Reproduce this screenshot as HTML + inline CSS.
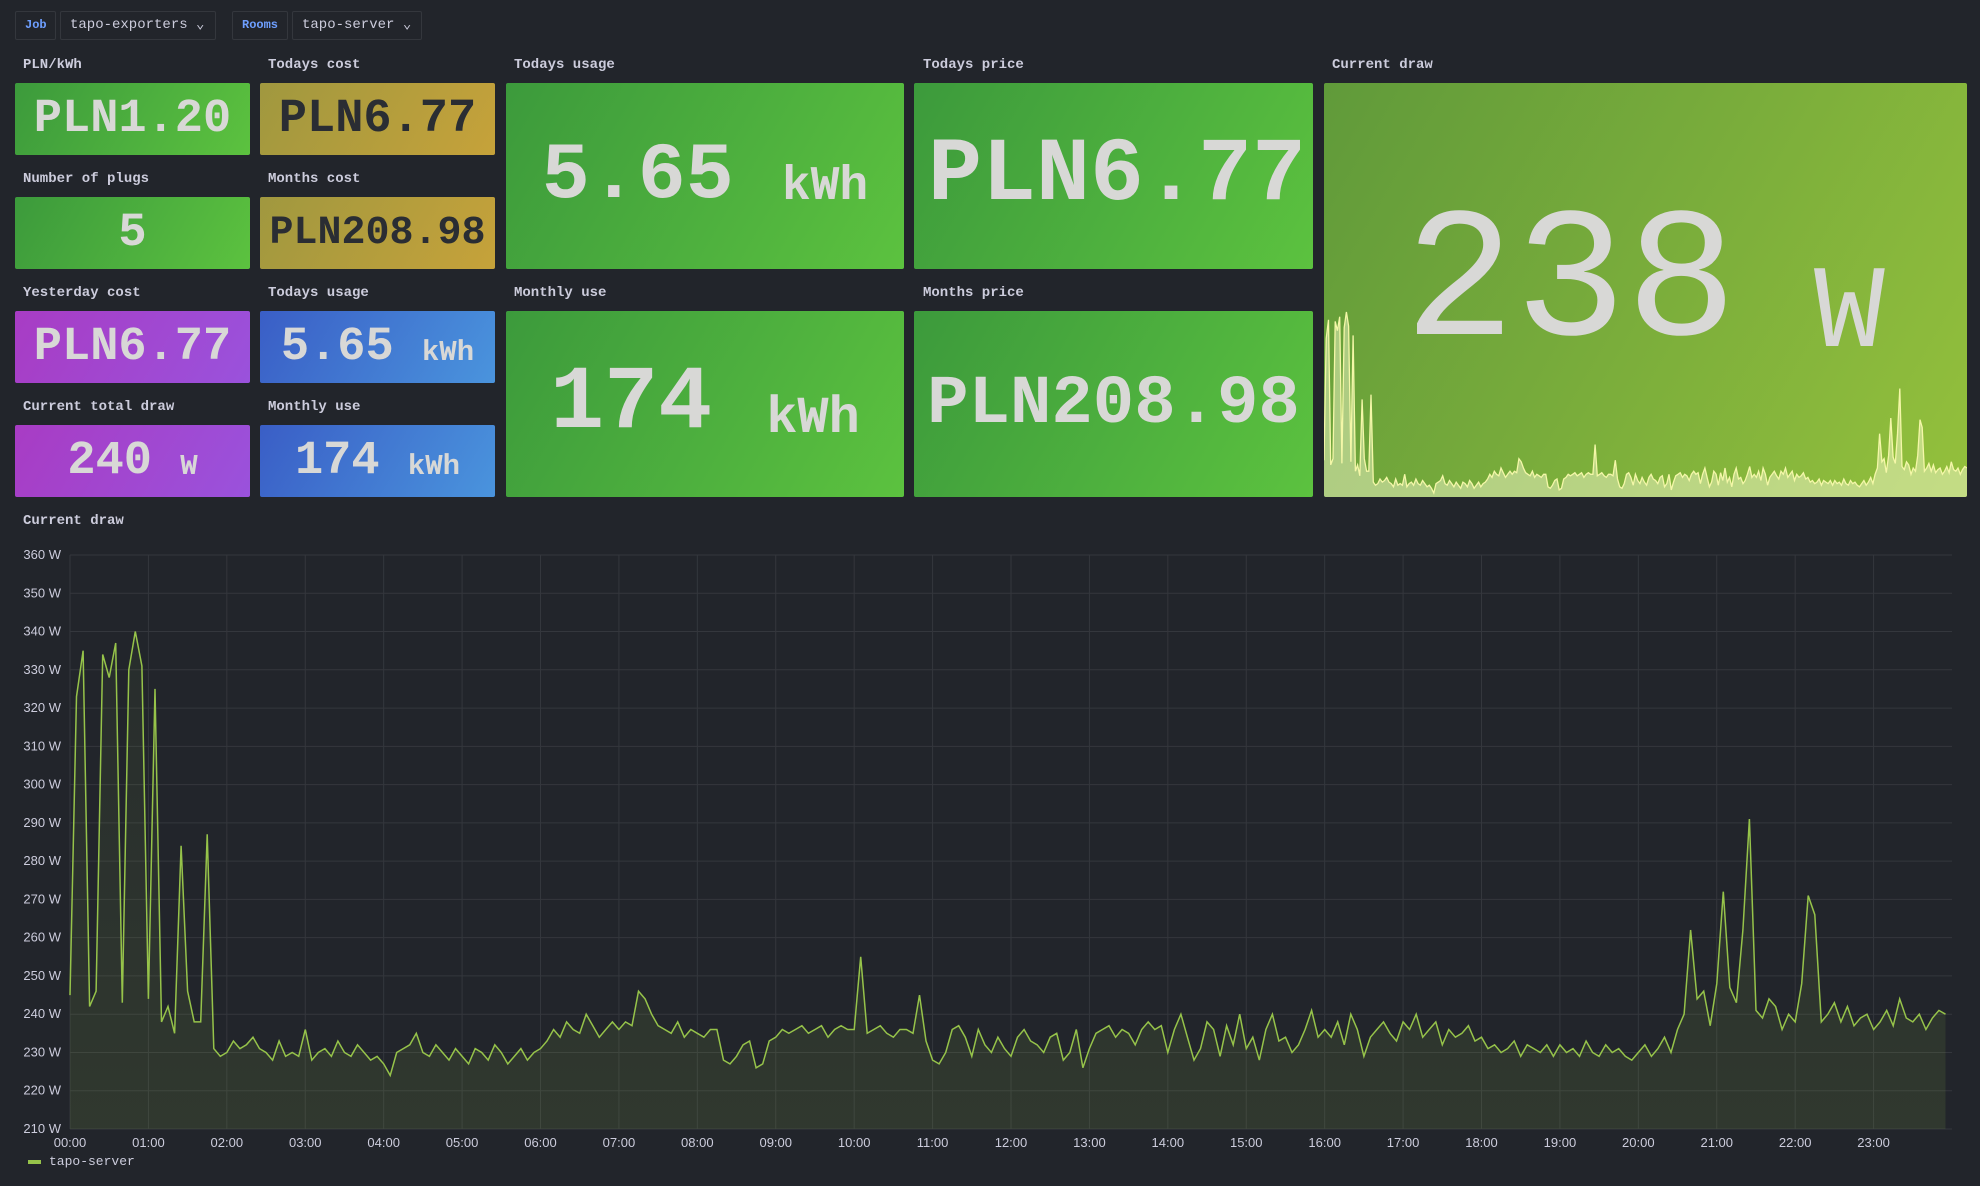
<!DOCTYPE html>
<html><head><meta charset="utf-8">
<style>
body{margin:0;width:1980px;height:1186px;background:#22252b;overflow:hidden;font-family:"Liberation Mono",monospace;color:#ccccdc;position:relative}
.abs{position:absolute}
.tag{position:absolute;top:11px;height:29px;border:1px solid #34373d;border-radius:2px;box-sizing:border-box;font-size:14px;line-height:27px;padding-left:9px}
.lbl{color:#6e9fff;font-size:12px;font-weight:bold}
.title{position:absolute;font-size:14px;font-weight:bold;color:#ccccdc}
.box{position:absolute;border-radius:2px;display:flex;align-items:center;justify-content:center;color:#d8d8d6;font-weight:bold;white-space:nowrap}
.g{background:linear-gradient(120deg,#3c9a3c,#5cc23f)}
.y{background:linear-gradient(120deg,#a0983f,#c6a23a);color:#2a2d33}
.p{background:linear-gradient(120deg,#a83cc4,#9a52dc)}
.b{background:linear-gradient(120deg,#3a5ec6,#4a94dd)}
</style></head><body>
<div class="tag lbl" style="left:15px;width:41px">Job</div>
<div class="tag" style="left:60px;width:156px">tapo-exporters ⌄</div>
<div class="tag lbl" style="left:232px;width:56px">Rooms</div>
<div class="tag" style="left:292px;width:130px">tapo-server ⌄</div>

<div class="title" style="left:23px;top:57px">PLN/kWh</div>
<div class="box g" style="left:15px;top:83px;width:235px;height:72px;font-size:47px">PLN1.20</div>
<div class="title" style="left:268px;top:57px">Todays cost</div>
<div class="box y" style="left:260px;top:83px;width:235px;height:72px;font-size:47px">PLN6.77</div>
<div class="title" style="left:23px;top:171px">Number of plugs</div>
<div class="box g" style="left:15px;top:197px;width:235px;height:72px;font-size:47px">5</div>
<div class="title" style="left:268px;top:171px">Months cost</div>
<div class="box y" style="left:260px;top:197px;width:235px;height:72px;font-size:40px">PLN208.98</div>
<div class="title" style="left:23px;top:285px">Yesterday cost</div>
<div class="box p" style="left:15px;top:311px;width:235px;height:72px;font-size:47px">PLN6.77</div>
<div class="title" style="left:268px;top:285px">Todays usage</div>
<div class="box b" style="left:260px;top:311px;width:235px;height:72px;font-size:47px">5.65&nbsp;<span style="font-size:29px;margin-top:10px">kWh</span></div>
<div class="title" style="left:23px;top:399px">Current total draw</div>
<div class="box p" style="left:15px;top:425px;width:235px;height:72px;font-size:47px">240&nbsp;<span style="font-size:29px;margin-top:10px">W</span></div>
<div class="title" style="left:268px;top:399px">Monthly use</div>
<div class="box b" style="left:260px;top:425px;width:235px;height:72px;font-size:47px">174&nbsp;<span style="font-size:29px;margin-top:10px">kWh</span></div>

<div class="title" style="left:514px;top:57px">Todays usage</div>
<div class="box g" style="left:506px;top:83px;width:398px;height:186px;font-size:80px">5.65&nbsp;<span style="font-size:48px;margin-top:22px">kWh</span></div>
<div class="title" style="left:923px;top:57px">Todays price</div>
<div class="box g" style="left:914px;top:83px;width:399px;height:186px;font-size:90px;justify-content:flex-start;padding-left:14px;box-sizing:border-box">PLN6.77</div>
<div class="title" style="left:514px;top:285px">Monthly use</div>
<div class="box g" style="left:506px;top:311px;width:398px;height:186px;font-size:90px">174&nbsp;<span style="font-size:52px;margin-top:28px">kWh</span></div>
<div class="title" style="left:923px;top:285px">Months price</div>
<div class="box g" style="left:914px;top:311px;width:399px;height:186px;font-size:69px">PLN208.98</div>

<div class="title" style="left:1332px;top:57px">Current draw</div>
<div class="abs" style="left:1324px;top:83px;width:643px;height:414px;background:linear-gradient(120deg,#609a3a,#94c03c);border-radius:2px;overflow:hidden">
<svg id="spark" width="643" height="414" style="position:absolute;left:0;top:0"></svg>
<div class="abs" style="left:80px;top:110px;font-size:185px;line-height:185px;color:#d8d8d6">238</div>
<div class="abs" style="left:490px;top:174px;font-size:118px;line-height:118px;color:#d8d8d6">W</div>
</div>

<div class="title" style="left:23px;top:513px">Current draw</div>
<svg id="chart" class="abs" style="left:0;top:530px" width="1980" height="656"></svg>

<script>
const hours=["00:00","01:00","02:00","03:00","04:00","05:00","06:00","07:00","08:00","09:00","10:00","11:00","12:00","13:00","14:00","15:00","16:00","17:00","18:00","19:00","20:00","21:00","22:00","23:00"];
const yTicks=[210,220,230,240,250,260,270,280,290,300,310,320,330,340,350,360];
const draw=[
245,323,335,242,246,334,328,337,243,330,340,331,
244,325,238,242,235,284,246,238,238,287,231,229,
230,233,231,232,234,231,230,228,233,229,230,229,
236,228,230,231,229,233,230,229,232,230,228,229,
227,224,230,231,232,235,230,229,232,230,228,231,
229,227,231,230,228,232,230,227,229,231,228,230,
231,233,236,234,238,236,235,240,237,234,236,238,
236,238,237,246,244,240,237,236,235,238,234,236,
235,234,236,236,228,227,229,232,233,226,227,233,
234,236,235,236,237,235,236,237,234,236,237,236,
236,255,235,236,237,235,234,236,236,235,245,233,
228,227,230,236,237,234,229,236,232,230,234,231,
229,234,236,233,232,230,234,235,228,230,236,226,
231,235,236,237,234,236,235,232,236,238,236,237,
230,236,240,234,228,231,238,236,229,237,232,240,
231,234,228,236,240,233,234,230,232,236,241,234,
236,234,238,232,240,236,229,234,236,238,235,233,
238,236,240,234,236,238,232,236,234,235,237,233,
234,231,232,230,231,233,229,232,231,230,232,229,
232,230,231,229,233,230,229,232,230,231,229,228,
230,232,229,231,234,230,236,240,262,244,246,237,
248,272,247,243,262,291,241,239,244,242,236,240,
238,248,271,266,238,240,243,238,242,237,239,240,
236,238,241,237,244,239,238,240,236,239,241,240];
const NS="http://www.w3.org/2000/svg";
function mk(p,t,a){const e=document.createElementNS(NS,t);for(const k in a)e.setAttribute(k,a[k]);p.appendChild(e);return e;}
// main chart (svg top = 530)
const svg=document.getElementById('chart');
const X0=70,X1=1952,Y0=599,Y1=25,VMIN=210,VMAX=360;
const xs=i=>X0+(X1-X0)*i/draw.length;
const xh=h=>X0+(X1-X0)*h/24;
const ys=v=>Y0-(v-VMIN)/(VMAX-VMIN)*(Y0-Y1);
const defs=mk(svg,'defs',{});
const lg=mk(defs,'linearGradient',{id:'fg',x1:0,y1:0,x2:0,y2:1});
mk(lg,'stop',{offset:0,'stop-color':'#96c34a','stop-opacity':0.05});
mk(lg,'stop',{offset:1,'stop-color':'#96c34a','stop-opacity':0.12});
yTicks.forEach(v=>{
 const l=mk(svg,'line',{x1:X0,x2:X1,y1:ys(v),y2:ys(v),stroke:'#34373d','stroke-width':1});
 
 
 const t=mk(svg,'text',{x:61,y:ys(v)+4,'text-anchor':'end','font-size':13,fill:'#ccccdc','font-family':'Liberation Sans, sans-serif'});
 t.textContent=v+' W';
 
 
});
hours.forEach((h,i)=>{
 const x=xh(i);
 const l=mk(svg,'line',{x1:x,x2:x,y1:Y1,y2:Y0,stroke:'#34373d','stroke-width':1});
 
 
 const t=mk(svg,'text',{x:x,y:617,'text-anchor':'middle','font-size':13,fill:'#ccccdc','font-family':'Liberation Sans, sans-serif'});
 t.textContent=h;
 
 
});
let pts=draw.map((v,i)=>xs(i).toFixed(1)+','+ys(v).toFixed(1));
const area=mk(svg,'path',{d:'M'+xs(0)+','+Y0+' L'+pts.join(' L')+' L'+xs(draw.length-1)+','+Y0+' Z',fill:'url(#fg)'});


const line=mk(svg,'polyline',{points:pts.join(' '),fill:'none',stroke:'#96c34a','stroke-width':1.5});


const lgl=mk(svg,'rect',{x:28,y:630,width:13,height:4,fill:'#96c34a'});


const lgt=mk(svg,'text',{x:49,y:635,'font-size':13,fill:'#ccccdc','font-family':'Liberation Mono, monospace'});
lgt.textContent='tapo-server';


// sparkline
const sp=document.getElementById('spark');
const mn=Math.min(...draw),mx=Math.max(...draw);
const sx=i=>643*i/(draw.length-1);
const sy=v=>410-(v-mn)/(mx-mn)*181;
let sp2=draw.map((v,i)=>sx(i).toFixed(1)+','+sy(v).toFixed(1));
const sa=mk(sp,'path',{d:'M0,414 L'+sp2.join(' L')+' L643,414 Z',fill:'rgba(255,255,220,0.45)'});


const sl=mk(sp,'polyline',{points:sp2.join(' '),fill:'none',stroke:'#f4f7a8','stroke-width':1.3});


</script>
</body></html>
